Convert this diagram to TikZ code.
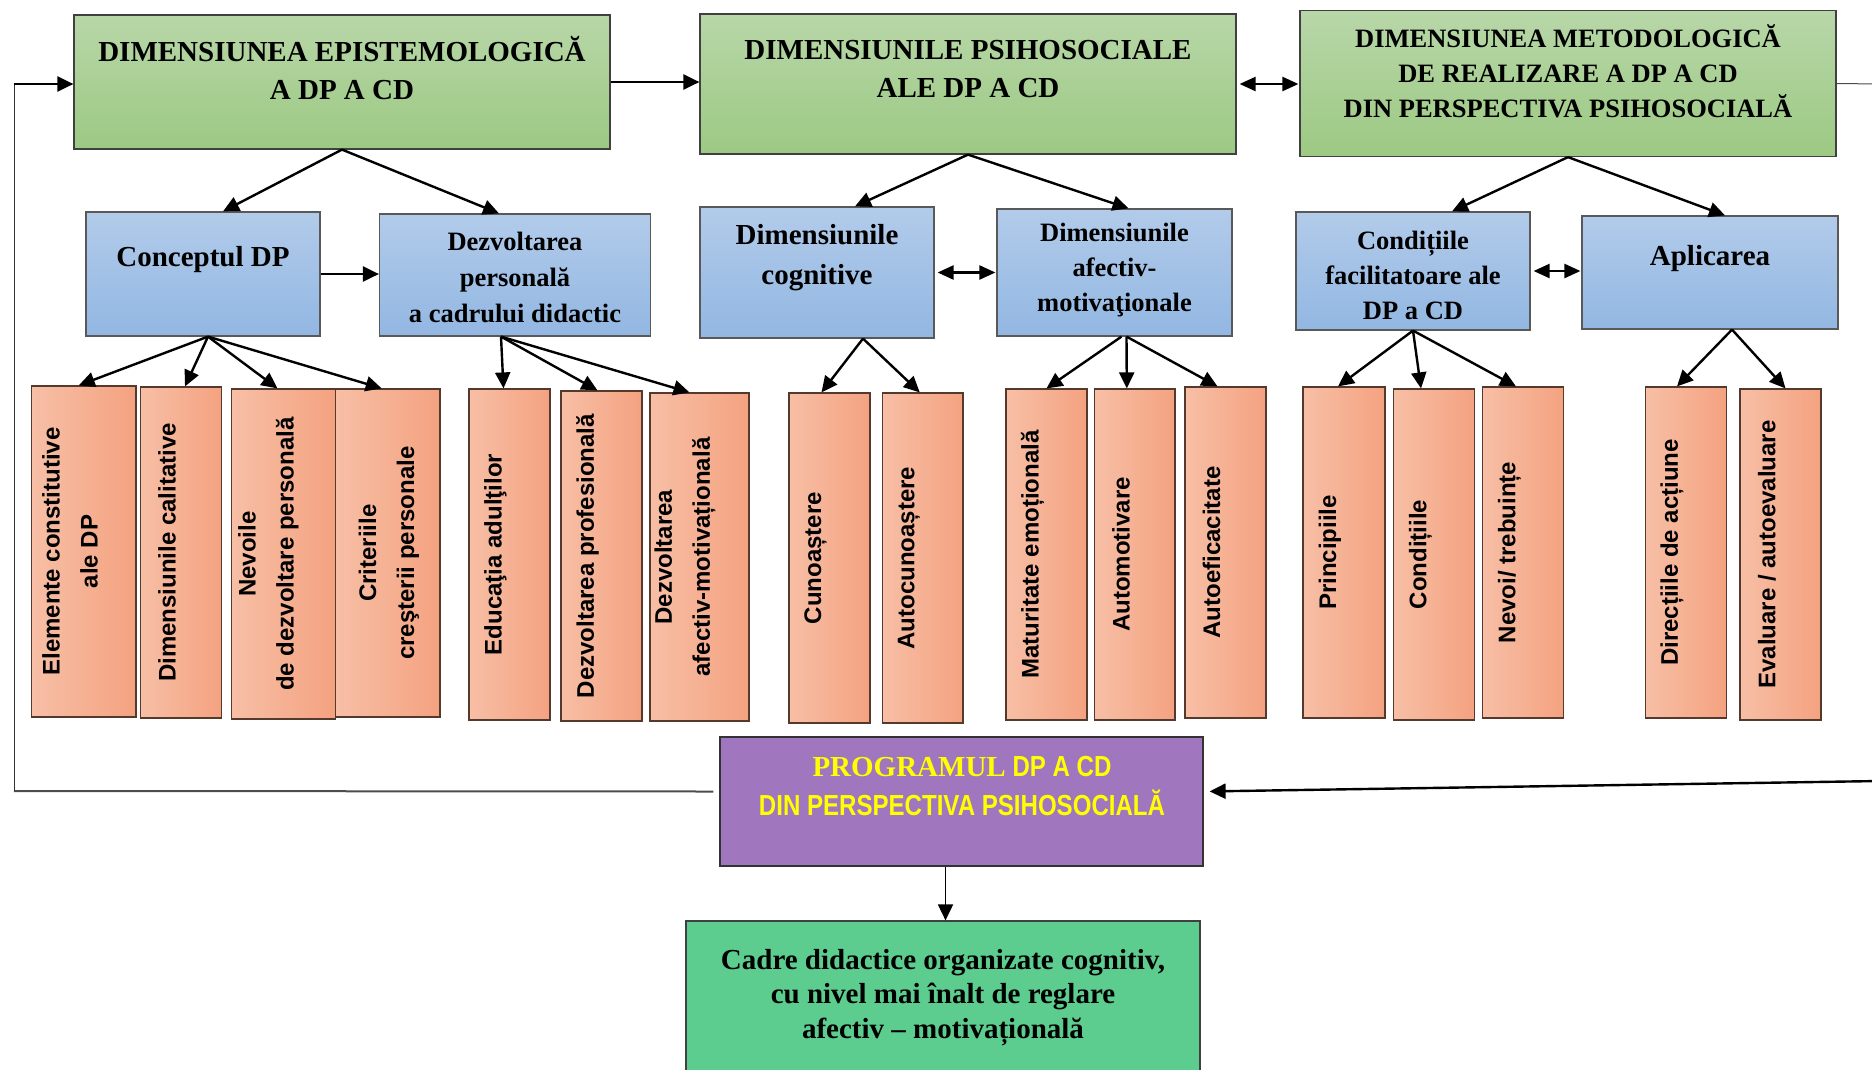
\documentclass[tikz,border=0pt]{standalone}
\usepackage{fontspec}
\setmainfont{Liberation Serif}
\setsansfont{Liberation Sans}
\newfontfamily\narrowsans[FakeStretch=0.83]{Liberation Sans}
\usetikzlibrary{arrows.meta}

\definecolor{greentop}{RGB}{184,215,168}
\definecolor{greenbot}{RGB}{156,201,131}
\definecolor{bluetop}{RGB}{178,203,234}
\definecolor{bluebot}{RGB}{146,183,226}
\definecolor{orangeleft}{RGB}{247,191,166}
\definecolor{orangeright}{RGB}{244,162,128}
\definecolor{progviolet}{RGB}{160,118,190}
\definecolor{resultgreen}{RGB}{92,205,143}
\definecolor{progyellow}{RGB}{255,255,0}

\begin{document}
\begin{tikzpicture}[
    x=1pt, y=-1pt, % 一个单位 = 参考图的一个像素, y 向下
    line width=1.2pt,
    gbox/.style={draw=black!75, top color=greentop, bottom color=greenbot, minimum width=536pt},
    bbox/.style={draw=black!65, top color=bluetop, bottom color=bluebot},
    obox/.style={draw=black!65!orangeright, left color=orangeleft, right color=orangeright,
                 minimum width=81pt, minimum height=331pt},
    bigtext/.style={align=center, font=\bfseries\fontsize{29}{38}\selectfont},
    midtext/.style={align=center, font=\bfseries\fontsize{26.5}{35}\selectfont},
    otext/.style={align=center, rotate=90, font=\sffamily\bfseries\fontsize{24}{38}\selectfont},
    arr/.style={line width=2.4pt, -{Triangle[length=16pt,width=15pt]}},
    darr/.style={line width=2.4pt, {Triangle[length=16pt,width=14pt]}-{Triangle[length=16pt,width=14pt]},
                 shorten <=3pt, shorten >=1pt}
]
  \useasboundingbox (0,0) rectangle (1872,1069);
  \clip (0,0) rectangle (1872,1069);

  % 第一层
  \node[gbox, minimum height=134pt] (epist) at (342,82) {};
  \node[bigtext] (epist-t) at (342,68) {DIMENSIUNEA EPISTEMOLOGICĂ\\A DP A CD};
  \node[gbox, minimum height=140pt] (psiho) at (968,84) {};
  \node[bigtext] (psiho-t) at (968,69) {DIMENSIUNILE PSIHOSOCIALE\\ALE DP A CD};
  \node[gbox, minimum height=146pt] (metod) at (1568,83.5) {};
  \node[midtext] (metod-t) at (1568,71.5) {DIMENSIUNEA METODOLOGICĂ\\DE REALIZARE A DP A CD\\DIN PERSPECTIVA PSIHOSOCIALĂ};

  % 第二层
  \node[bbox, minimum width=234pt, minimum height=124pt] (concept) at (203,274) {};
  \node[bigtext] (concept-t) at (203,260) {Conceptul DP};
  \node[bbox, minimum width=271pt, minimum height=122pt] (dezvpers) at (515,275) {};
  \node[midtext, font=\bfseries\fontsize{26.5}{36}\selectfont] (dezvpers-t) at (515,277) {Dezvoltarea\\personală\\a cadrului didactic};
  \node[bbox, minimum width=234pt, minimum height=131pt] (cogn) at (817,272.5) {};
  \node[bigtext, font=\bfseries\fontsize{29}{40}\selectfont] (cogn-t) at (817,258) {Dimensiunile\\cognitive};
  \node[bbox, minimum width=235pt, minimum height=127pt] (afect) at (1114.5,272.5) {};
  \node[midtext] (afect-t) at (1114.5,270.5) {Dimensiunile\\afectiv-\\motivaţionale};
  \node[bbox, minimum width=234pt, minimum height=118pt] (condit) at (1413,271) {};
  \node[midtext] (condit-t) at (1413,275) {Condițiile\\facilitatoare ale\\DP a CD};
  \node[bbox, minimum width=256pt, minimum height=113pt] (aplic) at (1710,272.5) {};
  \node[bigtext] (aplic-t) at (1710,259) {Aplicarea};

  % 第三层
  \node[obox, minimum width=104.5pt] (elem) at (83.75,551.5) {};
  \node[otext] (elem-t) at (70,551.5) {Elemente constitutive\\ale DP};
  \node[obox] (calit) at (181,552.5) {};
  \node[otext] (calit-t) at (167,552.5) {Dimensiunile calitative};
  \node[obox, minimum width=103.7pt, minimum height=330pt] (nevoi) at (283.5,554) {};
  \node[otext] (nevoi-t) at (268.5,554) {Nevoile\\de dezvoltare personală};
  \node[obox, minimum width=104.6pt, minimum height=328pt] (criter) at (387.7,553) {};
  \node[otext] (criter-t) at (389,553) {Criteriile\\creşterii personale};
  \node[obox] (educ) at (509.5,554.5) {};
  \node[otext] (educ-t) at (495.5,554.5) {Educaţia adulţilor};
  \node[obox, minimum height=330pt] (profes) at (601.5,556) {};
  \node[otext] (profes-t) at (587.5,556) {Dezvoltarea profesională};
  \node[obox, minimum width=99pt, minimum height=328pt] (afmot) at (699.5,557) {};
  \node[otext] (afmot-t) at (685,557) {Dezvoltarea\\afectiv-motivațională};
  \node[obox, minimum height=330pt] (cunoa) at (829.5,558) {};
  \node[otext] (cunoa-t) at (815.5,558) {Cunoaștere};
  \node[obox, minimum width=80.5pt, minimum height=330pt] (autocun) at (922.75,558) {};
  \node[otext] (autocun-t) at (909,558) {Autocunoaștere};
  \node[obox] (matur) at (1046.5,554.5) {};
  \node[otext] (matur-t) at (1032.5,554.5) {Maturitate emoțională};
  \node[obox, minimum width=80.4pt] (automot) at (1134.8,554.5) {};
  \node[otext] (automot-t) at (1121,554.5) {Automotivare};
  \node[obox] (autoefic) at (1225.5,552.5) {};
  \node[otext] (autoefic-t) at (1211.5,552.5) {Autoeficacitate};
  \node[obox, minimum width=82pt] (princ) at (1344,552.5) {};
  \node[otext] (princ-t) at (1330,552.5) {Principiile};
  \node[obox, minimum width=80.5pt] (condt) at (1434,554.5) {};
  \node[otext] (condt-t) at (1420.5,554.5) {Condițiile};
  \node[obox, minimum width=81.6pt] (trebu) at (1523,552.5) {};
  \node[otext] (trebu-t) at (1509.5,552.5) {Nevoi/ trebuințe};
  \node[obox] (direct) at (1686,552.5) {};
  \node[otext] (direct-t) at (1672,552.5) {Direcțiile de acțiune};
  \node[obox] (evalu) at (1780.5,554.5) {};
  \node[otext] (evalu-t) at (1767,554.5) {Evaluare / autoevaluare};

  % 程序与结果
  \node[draw=black!80, fill=progviolet, minimum width=483pt, minimum height=129pt] (prog) at (961.5,801.5) {};
  \node[align=center, text=progyellow, font=\narrowsans\bfseries\fontsize{29}{39}\selectfont] (prog-t) at (962,786.5)
    {{\rmfamily PROGRAMUL} DP A CD\\DIN PERSPECTIVA PSIHOSOCIALĂ};
  \node[draw=black!75, fill=resultgreen, minimum width=514pt, minimum height=169pt] (cadre) at (943,1005.5) {};
  \node[bigtext, font=\bfseries\fontsize{29}{34.5}\selectfont] (cadre-t) at (943,997.5)
    {Cadre didactice organizate cognitiv,\\cu nivel mai înalt de reglare\\afectiv – motivațională};

  % 连线: 第一层
  \draw[arr] (epist.east) -- (psiho.west |- epist.east);
  \draw[darr] (psiho.east) -- (metod.west |- psiho.east);
  \draw[arr] (epist.south) -- ([xshift=20pt]concept.north);
  \draw[arr] (epist.south) -- ([xshift=-16pt]dezvpers.north);
  \draw[arr] (psiho.south) -- ([xshift=38pt]cogn.north);
  \draw[arr] (psiho.south) -- ([xshift=14pt]afect.north);
  \draw[arr] (metod.south) -- ([xshift=39pt]condit.north);
  \draw[arr] (metod.south) -- ([xshift=15pt]aplic.north);

  % 连线: 第二层
  \draw[arr] (concept.east) -- (dezvpers.west |- concept.east);
  \draw[darr] (cogn.east) -- (afect.west |- cogn.east);
  \draw[darr] (condit.east) -- (aplic.west |- condit.east);

  % 连线: 第三层
  \draw[arr] ([xshift=5pt]concept.south) -- ([xshift=-5pt]elem.north);
  \draw[arr] ([xshift=5pt]concept.south) -- ([xshift=4pt]calit.north);
  \draw[arr] ([xshift=5pt]concept.south) -- ([xshift=-6pt]nevoi.north);
  \draw[arr] ([xshift=5pt]concept.south) -- ([xshift=-6pt]criter.north);
  \draw[arr] ([xshift=-14pt]dezvpers.south) -- ([xshift=-6pt]educ.north);
  \draw[arr] ([xshift=-14pt]dezvpers.south) -- ([xshift=-4pt]profes.north);
  \draw[arr] ([xshift=-14pt]dezvpers.south) -- ([xshift=-10pt]afmot.north);
  \draw[arr] ([xshift=46pt]cogn.south) -- ([xshift=-8pt]cunoa.north);
  \draw[arr] ([xshift=46pt]cogn.south) -- ([xshift=-3pt]autocun.north);
  \draw[arr] ([xshift=7pt]afect.south) -- (matur.north);
  \draw[arr] ([xshift=12pt]afect.south) -- ([xshift=-8pt]automot.north);
  \draw[arr] ([xshift=12pt]afect.south) -- ([xshift=-8pt]autoefic.north);
  \draw[arr] (condit.south) -- ([xshift=-6pt]princ.north);
  \draw[arr] (condit.south) -- ([xshift=-13pt]condt.north);
  \draw[arr] (condit.south) -- ([xshift=-7pt]trebu.north);
  \draw[arr] ([xshift=22pt]aplic.south) -- ([xshift=-9pt]direct.north);
  \draw[arr] ([xshift=22pt]aplic.south) -- ([xshift=5pt]evalu.north);

  % 反馈回路
  \coordinate (lb) at (14,791);
  \coordinate (lt) at (14,84);
  \coordinate (rt) at (1880,84);
  \coordinate (rb) at (1880,781);
  \draw[line width=2pt, black!70] ([xshift=-6pt,yshift=10pt]prog.west) -- (lb);
  \draw[line width=1pt, black!80] (lb) -- (lt);
  \draw[arr] (lt) -- (lt -| epist.west);
  \draw[line width=1pt, black!70] (metod.east) -- (rt) -- (rb);
  \draw[arr, shorten >=6pt] (rb) -- ([yshift=10pt]prog.east);
  \draw[arr, line width=1.8pt] ([xshift=-16pt]prog.south) -- ([xshift=2.5pt]cadre.north);
\end{tikzpicture}
\end{document}
